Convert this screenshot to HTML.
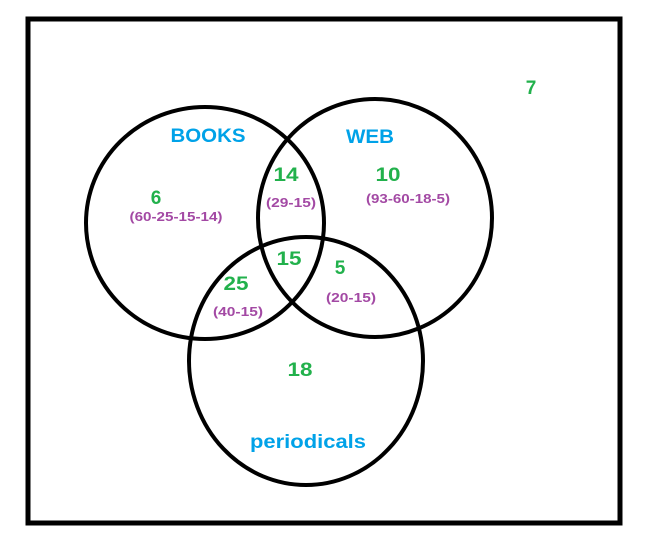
<!DOCTYPE html>
<html><head><style>
html,body{margin:0;padding:0;background:#fff;}
svg{display:block;}
text{font-family:"Liberation Sans",Arial,sans-serif;font-weight:bold;text-anchor:middle;dominant-baseline:central;}
.n{fill:#22b14c;font-size:19px;}
.p{fill:#a349a4;font-size:13px;}
.b{fill:#00a2e8;font-size:19px;}
</style></head><body>
<svg width="651" height="557" viewBox="0 0 651 557">
<rect x="28" y="19" width="592" height="504" fill="none" stroke="#000" stroke-width="5"/>
<g fill="none" stroke="#000" stroke-width="4">
<ellipse cx="205" cy="223" rx="119" ry="116"/>
<ellipse cx="375" cy="218" rx="117" ry="119"/>
<ellipse cx="306" cy="361" rx="117" ry="124"/>
</g>
<g transform="translate(0,1.5)">
<text class="b" x="208" y="135" textLength="75" lengthAdjust="spacingAndGlyphs">BOOKS</text>
<text class="b" x="370" y="136" textLength="48" lengthAdjust="spacingAndGlyphs">WEB</text>
<text class="b" x="308" y="441" textLength="116" lengthAdjust="spacingAndGlyphs">periodicals</text>
<text class="n" x="156" y="197">6</text>
<text class="p" x="176" y="215" textLength="93" lengthAdjust="spacingAndGlyphs">(60-25-15-14)</text>
<text class="n" x="286" y="174" textLength="25" lengthAdjust="spacingAndGlyphs">14</text>
<text class="p" x="291" y="201" textLength="50" lengthAdjust="spacingAndGlyphs">(29-15)</text>
<text class="n" x="388" y="174" textLength="25" lengthAdjust="spacingAndGlyphs">10</text>
<text class="p" x="408" y="197" textLength="84" lengthAdjust="spacingAndGlyphs">(93-60-18-5)</text>
<text class="n" x="289" y="258" textLength="25" lengthAdjust="spacingAndGlyphs">15</text>
<text class="n" x="340" y="267">5</text>
<text class="n" x="236" y="283" textLength="25" lengthAdjust="spacingAndGlyphs">25</text>
<text class="p" x="238" y="310" textLength="50" lengthAdjust="spacingAndGlyphs">(40-15)</text>
<text class="p" x="351" y="296" textLength="50" lengthAdjust="spacingAndGlyphs">(20-15)</text>
<text class="n" x="300" y="369" textLength="25" lengthAdjust="spacingAndGlyphs">18</text>
<text class="n" x="531" y="87">7</text>
</g>
</svg>
</body></html>
